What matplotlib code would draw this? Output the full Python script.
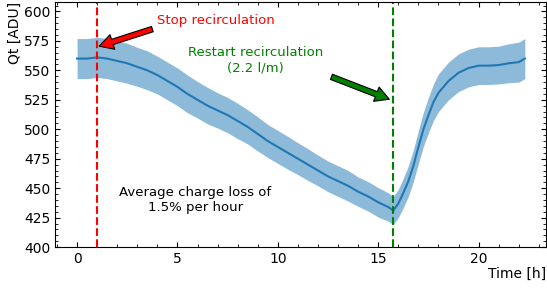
# charge Qt vs time with recirculation stop / restart markers
import matplotlib
matplotlib.use("Agg")
import matplotlib.pyplot as plt
import numpy as np
from matplotlib.ticker import AutoMinorLocator

# time [h], mean Qt [ADU], spread [ADU]
time = [0, 0.5, 1, 1.5, 2, 2.5, 3, 3.5, 4, 4.5, 5, 5.5, 6, 6.5, 7, 7.5, 8, 8.5,
        9, 9.5, 10, 10.5, 11, 11.5, 12, 12.5, 13, 13.5, 14, 14.5, 15, 15.5,
        15.75, 16, 16.25, 16.5, 16.75, 17, 17.25, 17.5, 17.75, 18, 18.5, 19,
        19.5, 20, 20.5, 21, 21.5, 22, 22.3]
qt_mean = [560, 560, 561, 560, 558, 556, 553, 550, 546, 541, 536, 530, 525, 520,
           516, 512, 507, 502, 496, 490, 485, 480, 475, 470, 465, 460, 456, 452,
           447, 443, 438, 434, 431, 437, 446, 456, 469, 485, 500, 512, 523, 531,
           541, 548, 552, 554, 554, 554.5, 556, 557, 560]
qt_std = [17, 17, 17, 17, 17, 17, 16.5, 16.5, 16, 16, 16, 16, 15.5, 15.5, 15, 15,
          15, 14.5, 14.5, 14, 14, 14, 13.5, 13.5, 13, 13, 13, 13, 12.5, 12.5,
          12.5, 12, 12, 12, 12.5, 13, 13.5, 14, 14.5, 15, 15.5, 16, 16, 16, 16,
          16, 16, 16, 16.5, 17, 17]

t_stop = 1.0
t_restart = 15.72

x = np.array(time)
y = np.array(qt_mean)
s = np.array(qt_std)

fig, ax = plt.subplots(figsize=(5.47, 2.89), dpi=100)
fig.subplots_adjust(left=0.1005, right=0.998, top=0.993, bottom=0.145)

ax.fill_between(x, y - s, y + s, color="C0", alpha=0.5, lw=0)
ax.plot(x, y, color="C0", lw=1.5)

ax.axvline(t_stop, color="red", ls="--", lw=1.5)
ax.axvline(t_restart, color="green", ls="--", lw=1.5)

# arrows + labels
ax.annotate("", xy=(1.1, 570.5), xytext=(3.75, 585),
            arrowprops=dict(facecolor="red", edgecolor="black", width=4,
                            headwidth=11, headlength=10, shrink=0, lw=0.8))
ax.text(6.9, 592.5, "Stop recirculation", color="red", fontsize=9.5,
        ha="center", va="center")

ax.annotate("", xy=(15.55, 525.5), xytext=(12.67, 544.5),
            arrowprops=dict(facecolor="green", edgecolor="black", width=4,
                            headwidth=11, headlength=10, shrink=0, lw=0.8))
ax.text(8.88, 558.5, "Restart recirculation\n(2.2 l/m)", color="green",
        fontsize=9.5, ha="center", va="center")

ax.text(5.88, 439.7, "Average charge loss of\n1.5% per hour", color="black",
        fontsize=9.5, ha="center", va="center")

ax.set_xlim(-1.1, 23.35)
ax.set_ylim(400, 608)
ax.set_xticks([0, 5, 10, 15, 20])
ax.set_yticks([400, 425, 450, 475, 500, 525, 550, 575, 600])
ax.xaxis.set_minor_locator(AutoMinorLocator())
ax.yaxis.set_minor_locator(AutoMinorLocator())
ax.tick_params(which="both", direction="in", top=True, right=True)
ax.tick_params(labelsize=10)

ax.set_xlabel("Time [h]", loc="right", fontsize=10, labelpad=1)
ax.set_ylabel("Qt [ADU]", loc="top", fontsize=10, labelpad=1)

plt.savefig("out.png", dpi=100)
